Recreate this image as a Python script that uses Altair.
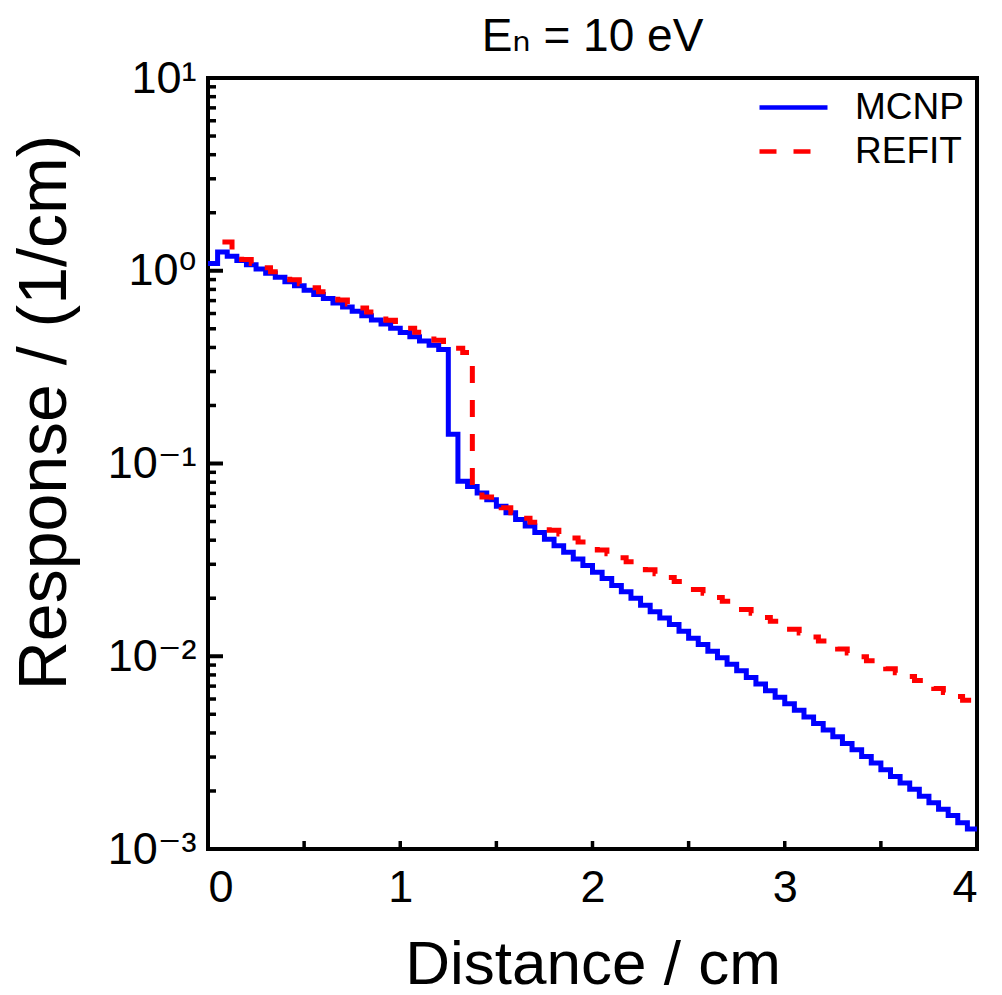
import altair as alt
import pandas as pd

# ---- data (step histograms, bin start positions) ----
mcnp_bin_width = 0.05
mcnp_values = [
    1.09, 1.25,
    1.190, 1.131, 1.075, 1.022, 0.972, 0.924, 0.878, 0.835, 0.793, 0.754,
    0.717, 0.681, 0.648, 0.616, 0.585, 0.556, 0.529, 0.503, 0.478, 0.454,
    0.432, 0.411, 0.390,
    0.142, 0.081,
    0.0760, 0.0702, 0.0649, 0.0600, 0.0555, 0.0513, 0.0474, 0.0438, 0.0405,
    0.0374, 0.0346, 0.0320, 0.0296, 0.0273, 0.0253, 0.0233, 0.0216, 0.0200,
    0.0184, 0.0170, 0.0158, 0.0146, 0.0135, 0.0124, 0.0115, 0.0106, 0.00983,
    0.00909, 0.00840, 0.00776, 0.00718, 0.00663, 0.00613, 0.00567, 0.00524,
    0.00484, 0.00448, 0.00414, 0.00382, 0.00353, 0.00327, 0.00302, 0.00279,
    0.00258, 0.00238, 0.00220, 0.00204, 0.00188, 0.00174, 0.00161, 0.00149,
    0.00137, 0.00127,
]
mcnp_start = 0.0

refit_bin_width = 0.05
refit_start = 0.075
refit_values = [
    1.41,
    1.200, 1.144, 1.090, 1.038, 0.989, 0.943, 0.898, 0.856, 0.816, 0.777,
    0.741, 0.706, 0.672, 0.641, 0.611, 0.582, 0.554, 0.528, 0.503, 0.480,
    0.457, 0.436, 0.415, 0.396, 0.377,
    0.074, 0.067, 0.0625, 0.059, 0.0555,
    0.0520, 0.0496, 0.0473, 0.0451, 0.0431, 0.0411, 0.0392, 0.0374, 0.0356,
    0.0340, 0.0324, 0.0309, 0.0295, 0.0281, 0.0268, 0.0256, 0.0244, 0.0233,
    0.0222, 0.0212, 0.0202, 0.0193, 0.0184, 0.0175, 0.0167, 0.0159, 0.0152,
    0.0145, 0.0138, 0.0132, 0.0126, 0.0120, 0.0114, 0.0109, 0.0104, 0.00993,
    0.00947, 0.00903, 0.00861, 0.00822, 0.00784, 0.00748, 0.00713, 0.00680,
    0.00649, 0.00619, 0.00591, 0.00564,
]
x_end = 4.0

series_names = ["MCNP", "REFIT"]
series_colors = ["#0000FF", "#FF0000"]
series_dashes = [[1, 0], [17, 17]]

x_ticks = [0, 1, 2, 3, 4]
x_minor = [0.5, 1.0, 1.5, 2.0, 2.5, 3.0, 3.5]
y_major = [0.001, 0.01, 0.1, 1, 10]
y_minor = [m * d for d in [0.001, 0.01, 0.1, 1] for m in range(2, 10)]

title_text = "Eₙ = 10 eV"
x_title = "Distance / cm"
y_title = "Response / (1/cm)"


def step_rows(name, start, width, values):
    rows = []
    for i, v in enumerate(values):
        rows.append({"x": round(start + i * width, 4), "y": v, "series": name})
    rows.append({"x": x_end, "y": values[-1], "series": name})
    return rows


df = pd.DataFrame(
    step_rows("MCNP", mcnp_start, mcnp_bin_width, mcnp_values)
    + step_rows("REFIT", refit_start, refit_bin_width, refit_values)
)

FONT = "Liberation Sans, Arial, DejaVu Sans, sans-serif"
W, H = 769, 771

xscale = alt.Scale(domain=[0, 4], nice=False, zero=False)
yscale = alt.Scale(type="log", domain=[0.001, 10], nice=False)

label_expr = (
    "datum.value >= 5 ? '10¹' : datum.value >= 0.5 ? '10⁰' : "
    "datum.value >= 0.05 ? '10⁻¹' : datum.value >= 0.005 ? '10⁻²' : '10⁻³'"
)

legend_kw = dict(
    title=None, orient="none", legendX=566, legendY=10,
    symbolType="M-2,0H2", symbolSize=1156, symbolStrokeWidth=4.5,
    symbolFillColor="transparent",
    labelFontSize=37, labelFont=FONT, labelColor="black",
    labelOffset=42, rowPadding=6,
)

lines = alt.Chart(df).mark_line(
    interpolate="step-after", strokeWidth=5, clip=True, strokeCap="butt"
).encode(
    x=alt.X(
        "x:Q", scale=xscale,
        axis=alt.Axis(
            values=x_ticks, format="d", title=x_title, grid=False, ticks=False,
            domain=False, labelFontSize=45, labelPadding=16, labelFont=FONT,
            labelColor="black", titleFont=FONT, titleFontSize=62,
            titleFontWeight="normal", titleColor="black",
            titleY=134, titleBaseline="alphabetic",
        ),
    ),
    y=alt.Y(
        "y:Q", scale=yscale,
        axis=alt.Axis(
            values=y_major, labelExpr=label_expr, title=y_title, grid=False,
            ticks=False, domain=False, labelFontSize=45, labelPadding=12,
            labelFont=FONT, labelColor="black", titleFont=FONT,
            titleFontSize=68, titleFontWeight="normal", titleColor="black",
            titleX=-163, titleY=334, titleAngle=270, titleBaseline="middle",
            titleAlign="center",
        ),
    ),
    color=alt.Color(
        "series:N",
        scale=alt.Scale(domain=series_names, range=series_colors),
        legend=alt.Legend(**legend_kw),
    ),
    strokeDash=alt.StrokeDash(
        "series:N",
        scale=alt.Scale(domain=series_names, range=series_dashes),
        legend=alt.Legend(**legend_kw),
    ),
)

ymaj_df = pd.DataFrame({"v": y_major})
ymin_df = pd.DataFrame({"v": y_minor})
xmin_df = pd.DataFrame({"v": x_minor})

y_major_ticks = alt.Chart(ymaj_df).mark_rule(color="black", strokeWidth=4).encode(
    y=alt.Y("v:Q", scale=yscale), x=alt.value(0), x2=alt.value(15)
)
y_minor_ticks = alt.Chart(ymin_df).mark_rule(color="black", strokeWidth=3.5).encode(
    y=alt.Y("v:Q", scale=yscale), x=alt.value(0), x2=alt.value(8)
)
x_minor_ticks = alt.Chart(xmin_df).mark_rule(color="black", strokeWidth=3.5).encode(
    x=alt.X("v:Q", scale=xscale), y=alt.value(H), y2=alt.value(H - 8)
)

chart = alt.layer(
    y_major_ticks, y_minor_ticks, x_minor_ticks, lines
).properties(
    width=W, height=H,
    padding={"left": 208, "top": 78, "right": 25, "bottom": 146},
    autosize="none",
    background="white",
    title=alt.TitleParams(
        title_text, font=FONT, fontSize=46, fontWeight="normal",
        color="black", anchor="middle", offset=0, dy=5,
    ),
).configure_view(
    stroke="black", strokeWidth=4
)

chart.save("out.html", embed_options={"renderer": "svg", "actions": False})
